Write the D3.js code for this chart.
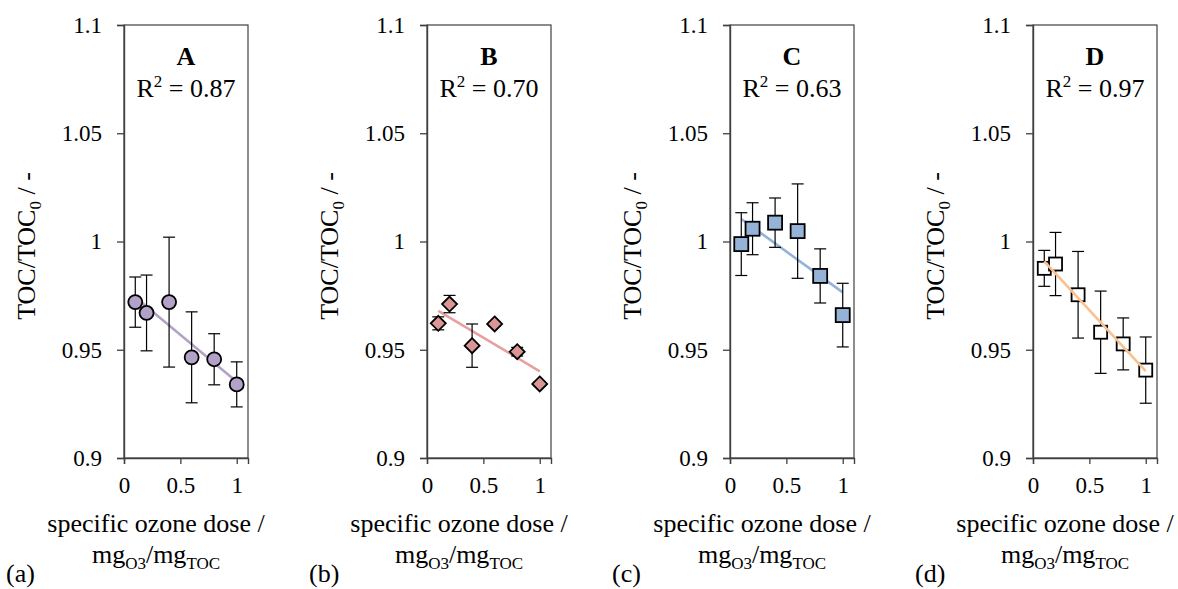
<!DOCTYPE html>
<html>
<head>
<meta charset="utf-8">
<script src="https://cdn.jsdelivr.net/npm/d3@7"></script>
<style>
  body { margin: 0; background: #fff; }
  svg text { font-family: "Liberation Serif", "Times New Roman", serif; fill: #000; }
</style>
</head>
<body>
<div id="chart"></div>
<script>
/* values */
let doses = [0.1, 0.2, 0.4, 0.6, 0.8, 1.0];

let tocA = [0.972, 0.967, 0.972, 0.9465, 0.9456, 0.934];
let errA = [0.0116, 0.0175, 0.030, 0.021, 0.0118, 0.0104];
let tocB = [0.9622, 0.9711, 0.9519, 0.9619, 0.9491, 0.9342];
let errB = [0.003, 0.004, 0.010, 0.001, 0.002, 0.001];
let tocC = [0.9988, 1.0059, 1.0087, 1.0048, 0.9841, 0.9660];
let errC = [0.0145, 0.012, 0.0114, 0.0218, 0.0125, 0.0147];
let tocD = [0.9876, 0.9896, 0.9754, 0.9581, 0.9527, 0.9406];
let errD = [0.0083, 0.0146, 0.020, 0.019, 0.012, 0.0153];

let panelNames = ["A", "B", "C", "D"];
let panelTags = ["(a)", "(b)", "(c)", "(d)"];
let r2Labels = ["0.87", "0.70", "0.63", "0.97"];
let yTicks = [0.9, 0.95, 1, 1.05, 1.1];
let xTicks = [0, 0.5, 1];

let panels = [
  {toc: tocA, err: errA, shape: "circle", fill: "#b3a2c7", line: "#b3a2c7", lineOnTop: false},
  {toc: tocB, err: errB, shape: "diamond", fill: "#d99694", line: "#e6a0a0", lineOnTop: false},
  {toc: tocC, err: errC, shape: "square", fill: "#95b3d7", line: "#95b3d7", lineOnTop: false},
  {toc: tocD, err: errD, shape: "square", fill: "#ffffff", line: "#fac090", lineOnTop: true, size: 13}
];

/* layout */
let width = 1178, height = 589;
let pLeft = 124, pStep = 303, pWidth = 124;
let pTop = 25, pBottom = 458;

let svg = d3.select("#chart").append("svg")
            .attr("width", width)
            .attr("height", height);

let y = d3.scaleLinear().domain([0.9, 1.1]).range([pBottom, pTop]);

/* least squares trend line */
function fit(xs, ys) {
  let mx = d3.mean(xs), my = d3.mean(ys);
  let sxy = d3.sum(xs, (d, i) => (d - mx) * (ys[i] - my));
  let sxx = d3.sum(xs, d => (d - mx) * (d - mx));
  let b = sxy / sxx;
  return x => my + b * (x - mx);
}

panels.forEach((p, k) => {
  let left = pLeft + k * pStep;
  let x = d3.scaleLinear().domain([0, 1.1]).range([left, left + pWidth]);
  let g = svg.append("g");

  // plot frame
  g.append("rect")
   .attr("x", left).attr("y", pTop)
   .attr("width", pWidth).attr("height", pBottom - pTop)
   .attr("fill", "none")
   .attr("stroke", "#404040")
   .attr("stroke-width", 1.2);

  // axes
  let yAxis = g.append("g")
     .attr("transform", `translate(${left},0)`)
     .call(d3.axisLeft(y).tickValues(yTicks).tickSize(7).tickPadding(15)
             .tickFormat(d => String(+d.toFixed(2))));
  let xAxis = g.append("g")
     .attr("transform", `translate(0,${pBottom})`)
     .call(d3.axisBottom(x).tickValues(xTicks).tickSize(6).tickPadding(13)
             .tickFormat(d => String(d)));
  [yAxis, xAxis].forEach(a => {
    a.select(".domain").attr("stroke", "#404040").attr("stroke-width", 1.4);
    a.selectAll(".tick line").attr("stroke", "#404040").attr("stroke-width", 1.3);
    a.selectAll("text").attr("font-size", 23)
     .attr("font-family", "Liberation Serif, Times New Roman, serif");
  });

  let f = fit(doses, p.toc);
  let trend = d3.line().x(d => x(d)).y(d => y(f(d)));
  let ends = [d3.min(doses), d3.max(doses)];

  function drawTrend() {
    g.append("path")
     .datum(ends)
     .attr("d", trend)
     .attr("fill", "none")
     .attr("stroke", p.line)
     .attr("stroke-width", 2.6);
  }
  if (!p.lineOnTop) drawTrend();

  // error bars
  let eb = g.append("g").attr("stroke", "#000").attr("stroke-width", 1.2);
  doses.forEach((d, i) => {
    let cx = x(d), y1 = y(p.toc[i] + p.err[i]), y2 = y(p.toc[i] - p.err[i]);
    eb.append("line").attr("x1", cx).attr("x2", cx).attr("y1", y1).attr("y2", y2);
    eb.append("line").attr("x1", cx - 6).attr("x2", cx + 6).attr("y1", y1).attr("y2", y1);
    eb.append("line").attr("x1", cx - 6).attr("x2", cx + 6).attr("y1", y2).attr("y2", y2);
  });

  // markers
  let mk = g.append("g")
            .attr("fill", p.fill)
            .attr("stroke", "#000")
            .attr("stroke-width", 1.8);
  doses.forEach((d, i) => {
    let cx = x(d), cy = y(p.toc[i]);
    if (p.shape === "circle") {
      mk.append("circle").attr("cx", cx).attr("cy", cy).attr("r", 7);
    } else if (p.shape === "diamond") {
      let s = 7.5;
      mk.append("path")
        .attr("d", `M${cx},${cy - s}L${cx + s},${cy}L${cx},${cy + s}L${cx - s},${cy}Z`);
    } else {
      let s = p.size || 14;
      mk.append("rect").attr("x", cx - s / 2).attr("y", cy - s / 2)
        .attr("width", s).attr("height", s);
    }
  });

  if (p.lineOnTop) drawTrend();

  // panel label and R2
  let mid = left + pWidth / 2;
  g.append("text")
   .attr("x", mid).attr("y", 65)
   .attr("text-anchor", "middle")
   .attr("font-size", 26).attr("font-weight", "bold")
   .text(panelNames[k]);
  let r2 = g.append("text")
   .attr("x", mid).attr("y", 97)
   .attr("text-anchor", "middle")
   .attr("font-size", 26);
  r2.append("tspan").text("R");
  r2.append("tspan").attr("font-size", 17).attr("dy", -10).text("2");
  r2.append("tspan").attr("dy", 10).text(" = " + r2Labels[k]);

  // y axis title
  let yt = g.append("text")
   .attr("transform", `translate(${left - 89},${246}) rotate(-90)`)
   .attr("text-anchor", "middle")
   .attr("font-size", 26);
  yt.append("tspan").text("TOC/TOC");
  yt.append("tspan").attr("font-size", 17).attr("dy", 6).text("0");
  yt.append("tspan").attr("dy", -6).text(" / -");

  // x axis title
  let xc = left + 32;
  g.append("text")
   .attr("x", xc).attr("y", 532)
   .attr("text-anchor", "middle")
   .attr("font-size", 26)
   .text("specific ozone dose /");
  let xt = g.append("text")
   .attr("x", xc).attr("y", 563)
   .attr("text-anchor", "middle")
   .attr("font-size", 26);
  xt.append("tspan").text("mg");
  xt.append("tspan").attr("font-size", 17).attr("dy", 6).text("O3");
  xt.append("tspan").attr("dy", -6).text("/mg");
  xt.append("tspan").attr("font-size", 17).attr("dy", 6).text("TOC");

  // subplot tag
  g.append("text")
   .attr("x", 6 + k * pStep).attr("y", 582)
   .attr("font-size", 26)
   .text(panelTags[k]);
});
</script>
</body>
</html>
